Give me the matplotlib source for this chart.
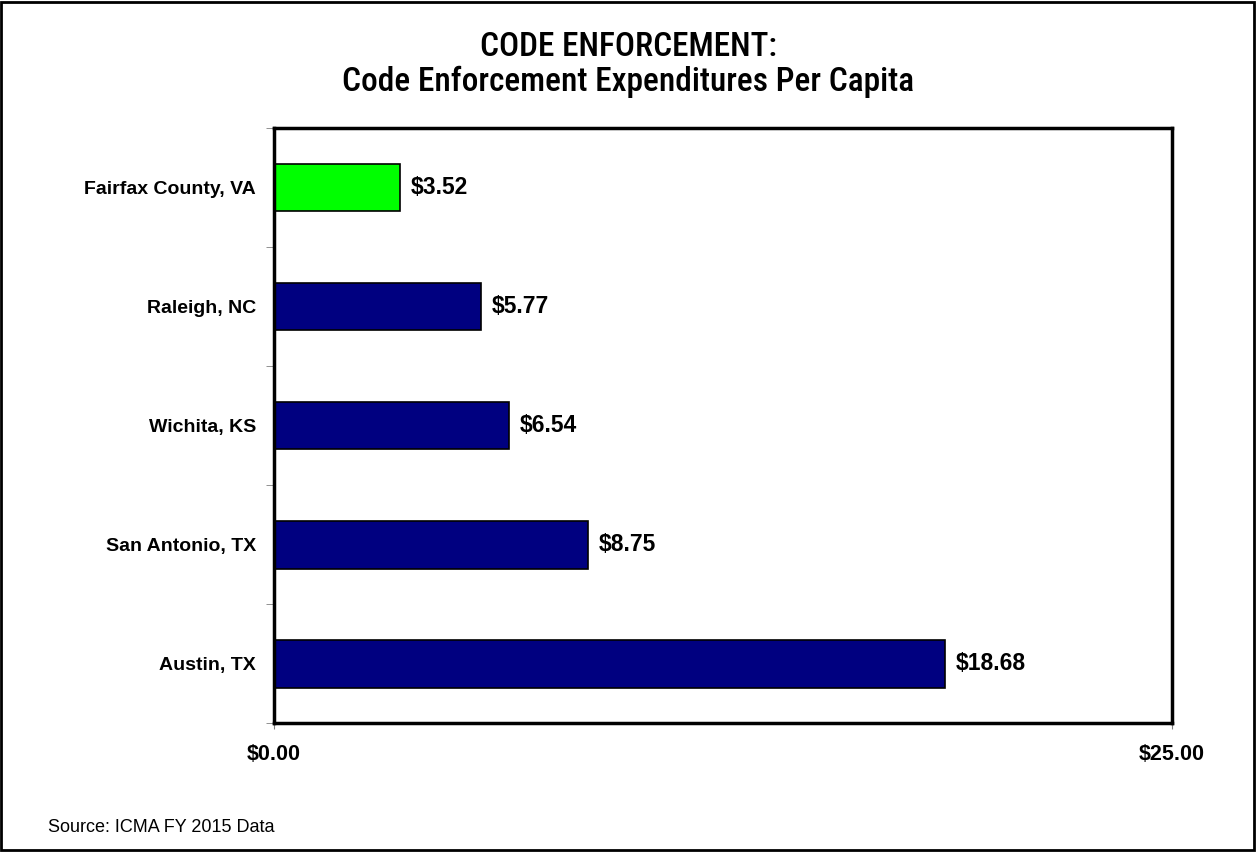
import matplotlib.pyplot as plt
from matplotlib.patches import Rectangle

# data
cities = ['Fairfax County, VA', 'Raleigh, NC', 'Wichita, KS', 'San Antonio, TX', 'Austin, TX']
values = [3.52, 5.77, 6.54, 8.75, 18.68]
colors = ['#00FF00', '#000080', '#000080', '#000080', '#000080']
xticks = [0, 25]
xticklabels = ['$0.00', '$25.00']

lab_font = ['Liberation Sans', 'DejaVu Sans']
title_font = ['Roboto Condensed', 'Liberation Sans Narrow', 'DejaVu Sans']

fig = plt.figure(figsize=(12.57, 8.52), dpi=100)
ax = fig.add_axes([0.218, 0.151, 0.714, 0.699])

ypos = list(range(len(cities)))
ax.barh(ypos, values, height=0.4, color=colors, edgecolor='black', linewidth=1.2)
for y, v in zip(ypos, values):
    ax.text(v + 0.3, y, '${:.2f}'.format(v), va='center', ha='left',
            fontsize=16.5, family=lab_font, fontweight='bold')

ax.set_xlim(0, 25)
ax.set_ylim(len(cities) - 0.5, -0.5)
ax.set_xticks(xticks)
ax.set_xticklabels(xticklabels, fontsize=15.5, family=lab_font, fontweight='bold')
ax.set_yticks(ypos)
ax.set_yticklabels(cities, fontsize=14, family=lab_font, fontweight='bold')
ax.tick_params(axis='y', length=0, pad=13)
ax.tick_params(axis='x', length=4, color='gray', pad=11)
ax.set_yticks([i - 0.5 for i in range(len(cities) + 1)], minor=True)
ax.tick_params(axis='y', which='minor', length=6, color='gray')
for s in ax.spines.values():
    s.set_linewidth(2.5)

fig.text(0.5, 0.945, 'CODE ENFORCEMENT:', ha='center', va='center', fontsize=24,
         family=title_font, fontweight='medium')
fig.text(0.5, 0.904, 'Code Enforcement Expenditures Per Capita', ha='center', va='center',
         fontsize=24, family=title_font, fontweight='medium')
fig.text(0.038, 0.029, 'Source: ICMA FY 2015 Data', ha='left', va='center', fontsize=13,
         family=lab_font)

fig.patches.append(Rectangle((0.001, 0.002), 0.997, 0.996, transform=fig.transFigure,
                             fill=False, edgecolor='black', linewidth=2))

plt.savefig('out.png', dpi=100)
